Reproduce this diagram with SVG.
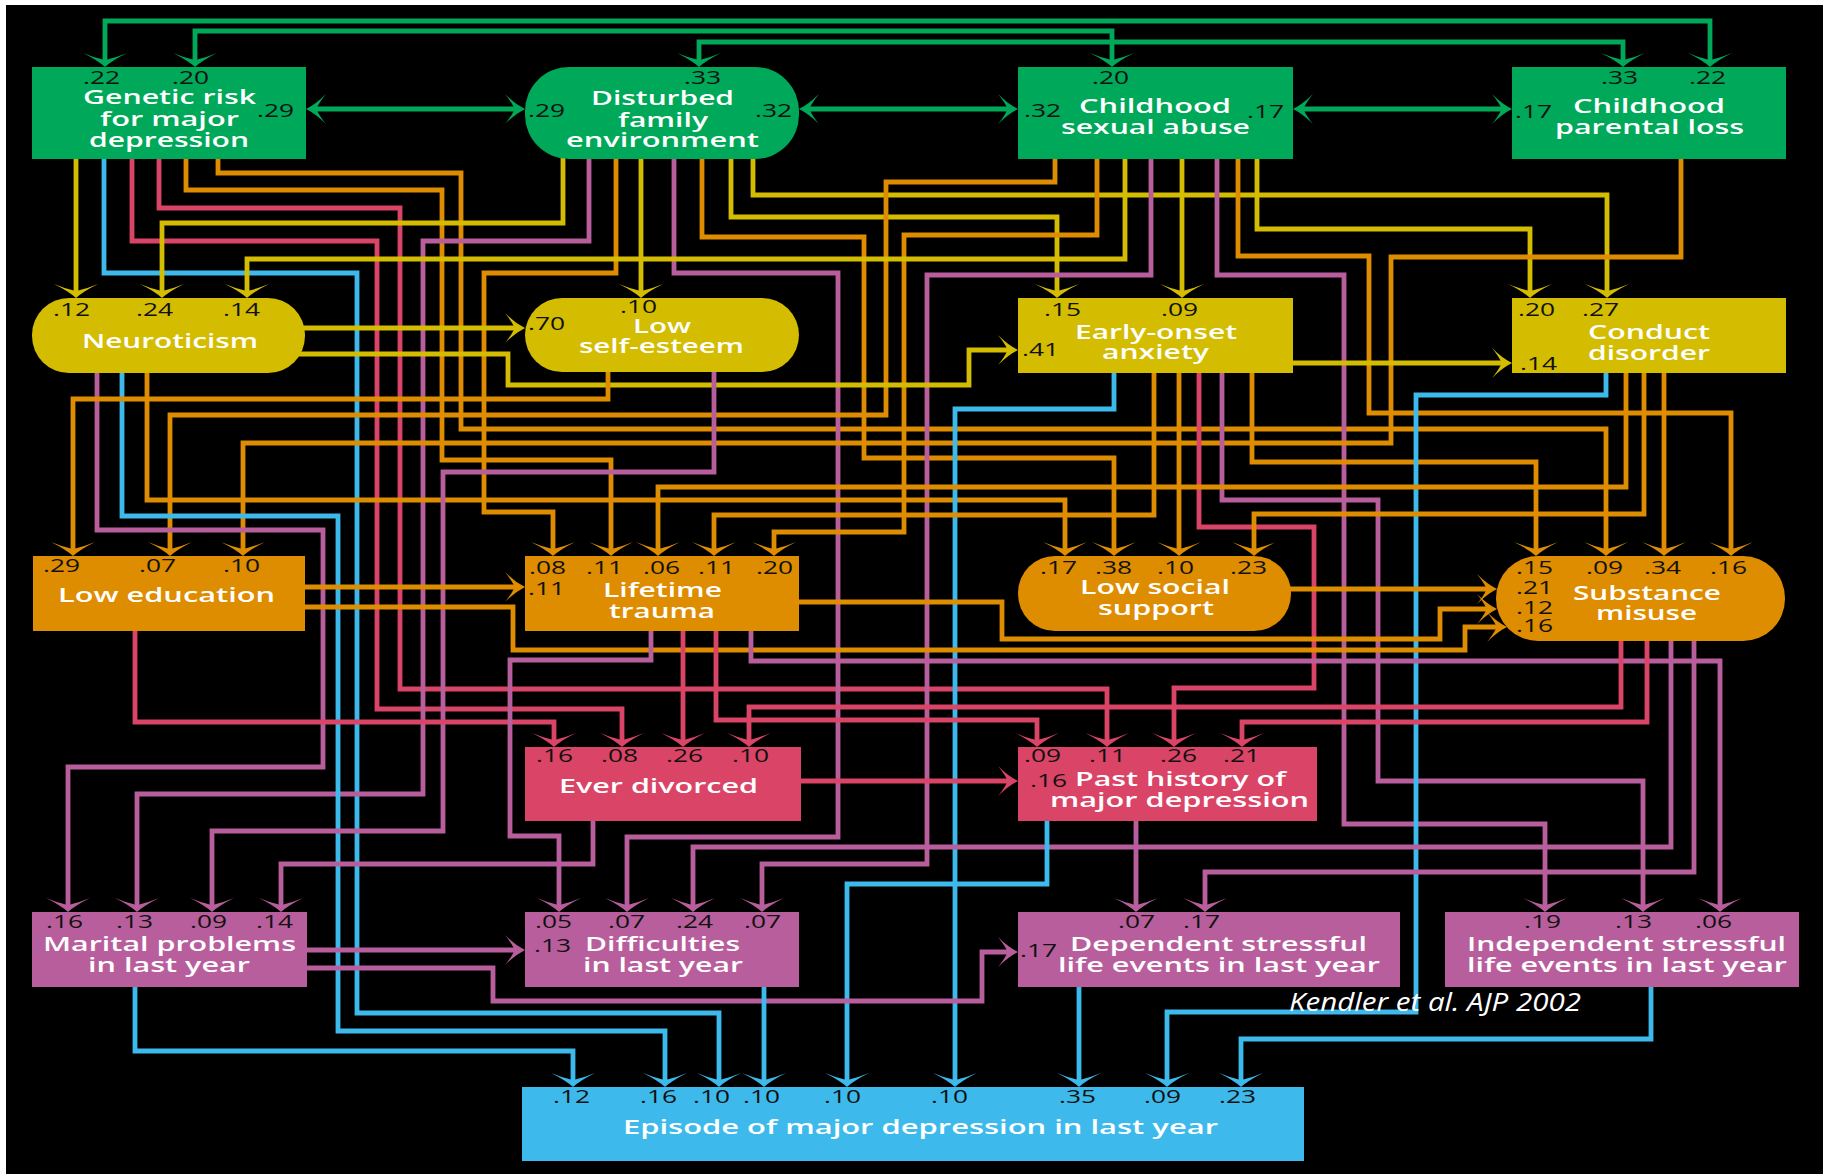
<svg xmlns="http://www.w3.org/2000/svg" width="1823" height="1174" viewBox="0 0 1823 1174">
<style>
.c{fill:none;stroke-width:4.8}
.g{stroke:#00A859}.y{stroke:#D4BC00}.o{stroke:#DE8C00}.r{stroke:#DA4466}.p{stroke:#B85E9C}.b{stroke:#3DBAEB}
.lbl{font-family:"Open Sans","DejaVu Sans",sans-serif;font-size:20px;font-weight:600;fill:#fff}
.num{font-family:"Open Sans","DejaVu Sans",sans-serif;font-size:18px;fill:#111}
.fg{fill:#00A859}.fy{fill:#D4BC00}.fo{fill:#DE8C00}.fr{fill:#DA4466}.fp{fill:#B85E9C}.fb{fill:#3DBAEB}
</style>
<defs>
<marker id="vg" markerUnits="userSpaceOnUse" markerWidth="40" markerHeight="50" orient="auto-start-reverse" overflow="visible"><path class="fg" d="M6,0 Q-0.5,-7 -8,-22 Q-3.5,-10.5 -1.5,-2.4 L-1.5,2.4 Q-3.5,10.5 -8,22 Q-0.5,7 6,0 Z"/></marker>
<marker id="hg" markerUnits="userSpaceOnUse" markerWidth="40" markerHeight="50" orient="auto-start-reverse" overflow="visible"><path class="fg" d="M9,0 Q-1,-5 -11,-15 Q-5,-7.5 -2.5,-2.4 L-2.5,2.4 Q-5,7.5 -11,15 Q-1,5 9,0 Z"/></marker>
<marker id="vy" markerUnits="userSpaceOnUse" markerWidth="40" markerHeight="50" orient="auto" overflow="visible"><path class="fy" d="M6,0 Q-0.5,-7 -8,-22 Q-3.5,-10.5 -1.5,-2.4 L-1.5,2.4 Q-3.5,10.5 -8,22 Q-0.5,7 6,0 Z"/></marker>
<marker id="hy" markerUnits="userSpaceOnUse" markerWidth="40" markerHeight="50" orient="auto" overflow="visible"><path class="fy" d="M9,0 Q-1,-5 -11,-15 Q-5,-7.5 -2.5,-2.4 L-2.5,2.4 Q-5,7.5 -11,15 Q-1,5 9,0 Z"/></marker>
<marker id="vo" markerUnits="userSpaceOnUse" markerWidth="40" markerHeight="50" orient="auto" overflow="visible"><path class="fo" d="M6,0 Q-0.5,-7 -8,-22 Q-3.5,-10.5 -1.5,-2.4 L-1.5,2.4 Q-3.5,10.5 -8,22 Q-0.5,7 6,0 Z"/></marker>
<marker id="ho" markerUnits="userSpaceOnUse" markerWidth="40" markerHeight="50" orient="auto" overflow="visible"><path class="fo" d="M9,0 Q-1,-5 -11,-15 Q-5,-7.5 -2.5,-2.4 L-2.5,2.4 Q-5,7.5 -11,15 Q-1,5 9,0 Z"/></marker>
<marker id="vr" markerUnits="userSpaceOnUse" markerWidth="40" markerHeight="50" orient="auto" overflow="visible"><path class="fr" d="M6,0 Q-0.5,-7 -8,-22 Q-3.5,-10.5 -1.5,-2.4 L-1.5,2.4 Q-3.5,10.5 -8,22 Q-0.5,7 6,0 Z"/></marker>
<marker id="hr" markerUnits="userSpaceOnUse" markerWidth="40" markerHeight="50" orient="auto" overflow="visible"><path class="fr" d="M9,0 Q-1,-5 -11,-15 Q-5,-7.5 -2.5,-2.4 L-2.5,2.4 Q-5,7.5 -11,15 Q-1,5 9,0 Z"/></marker>
<marker id="vp" markerUnits="userSpaceOnUse" markerWidth="40" markerHeight="50" orient="auto" overflow="visible"><path class="fp" d="M6,0 Q-0.5,-7 -8,-22 Q-3.5,-10.5 -1.5,-2.4 L-1.5,2.4 Q-3.5,10.5 -8,22 Q-0.5,7 6,0 Z"/></marker>
<marker id="hp" markerUnits="userSpaceOnUse" markerWidth="40" markerHeight="50" orient="auto" overflow="visible"><path class="fp" d="M9,0 Q-1,-5 -11,-15 Q-5,-7.5 -2.5,-2.4 L-2.5,2.4 Q-5,7.5 -11,15 Q-1,5 9,0 Z"/></marker>
<marker id="vb" markerUnits="userSpaceOnUse" markerWidth="40" markerHeight="50" orient="auto" overflow="visible"><path class="fb" d="M6,0 Q-0.5,-7 -8,-22 Q-3.5,-10.5 -1.5,-2.4 L-1.5,2.4 Q-3.5,10.5 -8,22 Q-0.5,7 6,0 Z"/></marker>
</defs>
<rect width="1823" height="1174" fill="#fff"/>
<rect x="6" y="5" width="1817" height="1169" fill="#000"/>
<g id="connectors">
<path class="c g" d="M105,61V21H1710V61" marker-start="url(#vg)" marker-end="url(#vg)"/>
<path class="c g" d="M195,61V31H1112V61" marker-start="url(#vg)" marker-end="url(#vg)"/>
<path class="c g" d="M699,61V42H1623V61" marker-start="url(#vg)" marker-end="url(#vg)"/>
<path class="c g" d="M315,109H516" marker-start="url(#hg)" marker-end="url(#hg)"/>
<path class="c g" d="M808,109H1009" marker-start="url(#hg)" marker-end="url(#hg)"/>
<path class="c g" d="M1302,109H1503" marker-start="url(#hg)" marker-end="url(#hg)"/>
<path class="c y" d="M76,150V292" marker-end="url(#vy)"/>
<path class="c b" d="M104,150V273H357V1013H719V1081" marker-end="url(#vb)"/>
<path class="c r" d="M132,150V241H377V709H622V741" marker-end="url(#vr)"/>
<path class="c r" d="M159,150V208H400V689H1107V741" marker-end="url(#vr)"/>
<path class="c o" d="M186,150V190H442V460H611V550" marker-end="url(#vo)"/>
<path class="c o" d="M218,150V173H461V429H1606V550" marker-end="url(#vo)"/>
<path class="c y" d="M563,140V223H162V292" marker-end="url(#vy)"/>
<path class="c p" d="M589,140V241H423V794H137V906" marker-end="url(#vp)"/>
<path class="c o" d="M616,140V273H484V512H553V550" marker-end="url(#vo)"/>
<path class="c y" d="M641,140V292" marker-end="url(#vy)"/>
<path class="c p" d="M674,140V273H838V837H627V906" marker-end="url(#vp)"/>
<path class="c o" d="M702,140V237H864V458H1114V550" marker-end="url(#vo)"/>
<path class="c y" d="M731,140V217H1057V292" marker-end="url(#vy)"/>
<path class="c y" d="M753,140V195H1607V292" marker-end="url(#vy)"/>
<path class="c o" d="M1055,150V182H886V415H170V550" marker-end="url(#vo)"/>
<path class="c o" d="M1097,150V235H904V532H774V550" marker-end="url(#vo)"/>
<path class="c y" d="M1125,150V259H247V292" marker-end="url(#vy)"/>
<path class="c p" d="M1151,150V275H927V864H762V906" marker-end="url(#vp)"/>
<path class="c y" d="M1182,150V292" marker-end="url(#vy)"/>
<path class="c p" d="M1217,150V275H1344V824H1545V906" marker-end="url(#vp)"/>
<path class="c o" d="M1238,150V256H1369V413H1731V550" marker-end="url(#vo)"/>
<path class="c y" d="M1257,150V229H1530V292" marker-end="url(#vy)"/>
<path class="c o" d="M1681,150V257H1391V443H243V550" marker-end="url(#vo)"/>
<path class="c y" d="M290,328H516" marker-end="url(#hy)"/>
<path class="c y" d="M290,354H508V385H969V350H1009" marker-end="url(#hy)"/>
<path class="c p" d="M97,365V530H323V767H68V906" marker-end="url(#vp)"/>
<path class="c b" d="M122,365V516H338V1031H665V1081" marker-end="url(#vb)"/>
<path class="c o" d="M147,365V500H1065V550" marker-end="url(#vo)"/>
<path class="c o" d="M608,365V399H73V550" marker-end="url(#vo)"/>
<path class="c p" d="M714,365V472H443V831H212V906" marker-end="url(#vp)"/>
<path class="c y" d="M1285,363H1503" marker-end="url(#hy)"/>
<path class="c b" d="M1114,365V409H955V1081" marker-end="url(#vb)"/>
<path class="c o" d="M1154,365V515H714V550" marker-end="url(#vo)"/>
<path class="c o" d="M1179,365V550" marker-end="url(#vo)"/>
<path class="c r" d="M1199,365V527H1314V688H1174V741" marker-end="url(#vr)"/>
<path class="c p" d="M1222,365V500H1378V781H1643V906" marker-end="url(#vp)"/>
<path class="c o" d="M1252,365V462H1536V550" marker-end="url(#vo)"/>
<path class="c b" d="M1606,365V395H1416V1012H1167V1081" marker-end="url(#vb)"/>
<path class="c o" d="M1626,365V487H658V550" marker-end="url(#vo)"/>
<path class="c o" d="M1644,365V514H1254V550" marker-end="url(#vo)"/>
<path class="c o" d="M1664,365V550" marker-end="url(#vo)"/>
<path class="c o" d="M300,587H516" marker-end="url(#ho)"/>
<path class="c o" d="M300,607H513V650H1465V627H1498" marker-end="url(#ho)"/>
<path class="c r" d="M135,625V722H554V741" marker-end="url(#vr)"/>
<path class="c o" d="M795,602H1002V639H1440V609H1488" marker-end="url(#ho)"/>
<path class="c p" d="M651,625V660H510V836H559V906" marker-end="url(#vp)"/>
<path class="c r" d="M683,625V741" marker-end="url(#vr)"/>
<path class="c r" d="M716,625V720H1037V741" marker-end="url(#vr)"/>
<path class="c p" d="M751,625V661H1720V906" marker-end="url(#vp)"/>
<path class="c o" d="M1280,589H1488" marker-end="url(#ho)"/>
<path class="c r" d="M1621,630V707H749V741" marker-end="url(#vr)"/>
<path class="c r" d="M1647,630V722H1242V741" marker-end="url(#vr)"/>
<path class="c p" d="M1671,630V847H693V906" marker-end="url(#vp)"/>
<path class="c p" d="M1694,630V872H1205V906" marker-end="url(#vp)"/>
<path class="c r" d="M795,781H1009" marker-end="url(#hr)"/>
<path class="c p" d="M593,815V864H281V906" marker-end="url(#vp)"/>
<path class="c b" d="M1047,815V884H847V1081" marker-end="url(#vb)"/>
<path class="c p" d="M1136,815V906" marker-end="url(#vp)"/>
<path class="c p" d="M300,950H516" marker-end="url(#hp)"/>
<path class="c p" d="M300,968H493V1001H982V952H1009" marker-end="url(#hp)"/>
<path class="c b" d="M135,980V1051H573V1081" marker-end="url(#vb)"/>
<path class="c b" d="M764,980V1081" marker-end="url(#vb)"/>
<path class="c b" d="M1079,980V1081" marker-end="url(#vb)"/>
<path class="c b" d="M1651,980V1039H1241V1081" marker-end="url(#vb)"/>
</g>
<g id="genetic"><rect class="fg" x="32" y="67" width="274" height="92"/>
<text class="lbl" x="83" y="104" textLength="173" lengthAdjust="spacingAndGlyphs">Genetic risk</text>
<text class="lbl" x="100" y="126" textLength="139" lengthAdjust="spacingAndGlyphs">for major</text>
<text class="lbl" x="89" y="147" textLength="160" lengthAdjust="spacingAndGlyphs">depression</text>
<text class="num" x="83" y="84" textLength="37" lengthAdjust="spacingAndGlyphs">.22</text>
<text class="num" x="172" y="84" textLength="37" lengthAdjust="spacingAndGlyphs">.20</text>
<text class="num" x="257" y="117" textLength="37" lengthAdjust="spacingAndGlyphs">.29</text></g>
<g id="disturbed"><rect class="fg" x="525" y="67" width="274" height="92" rx="44"/>
<text class="lbl" x="591" y="105" textLength="143" lengthAdjust="spacingAndGlyphs">Disturbed</text>
<text class="lbl" x="618" y="127" textLength="90" lengthAdjust="spacingAndGlyphs">family</text>
<text class="lbl" x="566" y="147" textLength="193" lengthAdjust="spacingAndGlyphs">environment</text>
<text class="num" x="684" y="84" textLength="37" lengthAdjust="spacingAndGlyphs">.33</text>
<text class="num" x="528" y="117" textLength="37" lengthAdjust="spacingAndGlyphs">.29</text>
<text class="num" x="755" y="117" textLength="37" lengthAdjust="spacingAndGlyphs">.32</text></g>
<g id="csa"><rect class="fg" x="1018" y="67" width="275" height="92"/>
<text class="lbl" x="1079" y="113" textLength="152" lengthAdjust="spacingAndGlyphs">Childhood</text>
<text class="lbl" x="1061" y="134" textLength="189" lengthAdjust="spacingAndGlyphs">sexual abuse</text>
<text class="num" x="1092" y="84" textLength="37" lengthAdjust="spacingAndGlyphs">.20</text>
<text class="num" x="1024" y="117" textLength="37" lengthAdjust="spacingAndGlyphs">.32</text>
<text class="num" x="1247" y="118" textLength="37" lengthAdjust="spacingAndGlyphs">.17</text></g>
<g id="parental"><rect class="fg" x="1512" y="67" width="274" height="92"/>
<text class="lbl" x="1573" y="113" textLength="152" lengthAdjust="spacingAndGlyphs">Childhood</text>
<text class="lbl" x="1555" y="134" textLength="189" lengthAdjust="spacingAndGlyphs">parental loss</text>
<text class="num" x="1601" y="84" textLength="37" lengthAdjust="spacingAndGlyphs">.33</text>
<text class="num" x="1689" y="84" textLength="37" lengthAdjust="spacingAndGlyphs">.22</text>
<text class="num" x="1515" y="118" textLength="37" lengthAdjust="spacingAndGlyphs">.17</text></g>
<g id="neuroticism"><rect class="fy" x="32" y="298" width="273" height="75" rx="37"/>
<text class="lbl" x="82" y="348" textLength="176" lengthAdjust="spacingAndGlyphs">Neuroticism</text>
<text class="num" x="53" y="316" textLength="37" lengthAdjust="spacingAndGlyphs">.12</text>
<text class="num" x="136" y="316" textLength="37" lengthAdjust="spacingAndGlyphs">.24</text>
<text class="num" x="223" y="316" textLength="37" lengthAdjust="spacingAndGlyphs">.14</text></g>
<g id="selfesteem"><rect class="fy" x="525" y="298" width="274" height="74" rx="37"/>
<text class="lbl" x="633" y="333" textLength="58" lengthAdjust="spacingAndGlyphs">Low</text>
<text class="lbl" x="579" y="353" textLength="165" lengthAdjust="spacingAndGlyphs">self-esteem</text>
<text class="num" x="620" y="313" textLength="37" lengthAdjust="spacingAndGlyphs">.10</text>
<text class="num" x="528" y="330" textLength="37" lengthAdjust="spacingAndGlyphs">.70</text></g>
<g id="anxiety"><rect class="fy" x="1018" y="298" width="275" height="75"/>
<text class="lbl" x="1075" y="339" textLength="162" lengthAdjust="spacingAndGlyphs">Early-onset</text>
<text class="lbl" x="1102" y="359" textLength="107" lengthAdjust="spacingAndGlyphs">anxiety</text>
<text class="num" x="1044" y="316" textLength="37" lengthAdjust="spacingAndGlyphs">.15</text>
<text class="num" x="1161" y="316" textLength="37" lengthAdjust="spacingAndGlyphs">.09</text>
<text class="num" x="1022" y="356" textLength="37" lengthAdjust="spacingAndGlyphs">.41</text></g>
<g id="conduct"><rect class="fy" x="1512" y="298" width="274" height="75"/>
<text class="lbl" x="1588" y="339" textLength="122" lengthAdjust="spacingAndGlyphs">Conduct</text>
<text class="lbl" x="1588" y="360" textLength="122" lengthAdjust="spacingAndGlyphs">disorder</text>
<text class="num" x="1518" y="316" textLength="37" lengthAdjust="spacingAndGlyphs">.20</text>
<text class="num" x="1582" y="316" textLength="37" lengthAdjust="spacingAndGlyphs">.27</text>
<text class="num" x="1520" y="370" textLength="37" lengthAdjust="spacingAndGlyphs">.14</text></g>
<g id="education"><rect class="fo" x="33" y="556" width="272" height="75"/>
<text class="lbl" x="58" y="602" textLength="217" lengthAdjust="spacingAndGlyphs">Low education</text>
<text class="num" x="43" y="572" textLength="37" lengthAdjust="spacingAndGlyphs">.29</text>
<text class="num" x="139" y="572" textLength="37" lengthAdjust="spacingAndGlyphs">.07</text>
<text class="num" x="223" y="572" textLength="37" lengthAdjust="spacingAndGlyphs">.10</text></g>
<g id="trauma"><rect class="fo" x="525" y="556" width="274" height="75"/>
<text class="lbl" x="603" y="597" textLength="119" lengthAdjust="spacingAndGlyphs">Lifetime</text>
<text class="lbl" x="609" y="618" textLength="106" lengthAdjust="spacingAndGlyphs">trauma</text>
<text class="num" x="529" y="574" textLength="37" lengthAdjust="spacingAndGlyphs">.08</text>
<text class="num" x="586" y="574" textLength="37" lengthAdjust="spacingAndGlyphs">.11</text>
<text class="num" x="643" y="574" textLength="37" lengthAdjust="spacingAndGlyphs">.06</text>
<text class="num" x="698" y="574" textLength="37" lengthAdjust="spacingAndGlyphs">.11</text>
<text class="num" x="756" y="574" textLength="37" lengthAdjust="spacingAndGlyphs">.20</text>
<text class="num" x="528" y="595" textLength="37" lengthAdjust="spacingAndGlyphs">.11</text></g>
<g id="social"><rect class="fo" x="1018" y="556" width="273" height="75" rx="37"/>
<text class="lbl" x="1080" y="594" textLength="150" lengthAdjust="spacingAndGlyphs">Low social</text>
<text class="lbl" x="1098" y="615" textLength="116" lengthAdjust="spacingAndGlyphs">support</text>
<text class="num" x="1040" y="574" textLength="37" lengthAdjust="spacingAndGlyphs">.17</text>
<text class="num" x="1095" y="574" textLength="37" lengthAdjust="spacingAndGlyphs">.38</text>
<text class="num" x="1157" y="574" textLength="37" lengthAdjust="spacingAndGlyphs">.10</text>
<text class="num" x="1230" y="574" textLength="37" lengthAdjust="spacingAndGlyphs">.23</text></g>
<g id="substance"><rect class="fo" x="1496" y="556" width="289" height="85" rx="42"/>
<text class="lbl" x="1573" y="600" textLength="148" lengthAdjust="spacingAndGlyphs">Substance</text>
<text class="lbl" x="1596" y="620" textLength="101" lengthAdjust="spacingAndGlyphs">misuse</text>
<text class="num" x="1516" y="574" textLength="37" lengthAdjust="spacingAndGlyphs">.15</text>
<text class="num" x="1586" y="574" textLength="37" lengthAdjust="spacingAndGlyphs">.09</text>
<text class="num" x="1644" y="574" textLength="37" lengthAdjust="spacingAndGlyphs">.34</text>
<text class="num" x="1710" y="574" textLength="37" lengthAdjust="spacingAndGlyphs">.16</text>
<text class="num" x="1516" y="594" textLength="37" lengthAdjust="spacingAndGlyphs">.21</text>
<text class="num" x="1516" y="614" textLength="37" lengthAdjust="spacingAndGlyphs">.12</text>
<text class="num" x="1516" y="632" textLength="37" lengthAdjust="spacingAndGlyphs">.16</text></g>
<g id="divorced"><rect class="fr" x="525" y="747" width="276" height="74"/>
<text class="lbl" x="559" y="793" textLength="199" lengthAdjust="spacingAndGlyphs">Ever divorced</text>
<text class="num" x="536" y="762" textLength="37" lengthAdjust="spacingAndGlyphs">.16</text>
<text class="num" x="601" y="762" textLength="37" lengthAdjust="spacingAndGlyphs">.08</text>
<text class="num" x="666" y="762" textLength="37" lengthAdjust="spacingAndGlyphs">.26</text>
<text class="num" x="732" y="762" textLength="37" lengthAdjust="spacingAndGlyphs">.10</text></g>
<g id="pasthistory"><rect class="fr" x="1018" y="747" width="299" height="74"/>
<text class="lbl" x="1075" y="786" textLength="211" lengthAdjust="spacingAndGlyphs">Past history of</text>
<text class="lbl" x="1050" y="807" textLength="259" lengthAdjust="spacingAndGlyphs">major depression</text>
<text class="num" x="1024" y="762" textLength="37" lengthAdjust="spacingAndGlyphs">.09</text>
<text class="num" x="1089" y="762" textLength="37" lengthAdjust="spacingAndGlyphs">.11</text>
<text class="num" x="1160" y="762" textLength="37" lengthAdjust="spacingAndGlyphs">.26</text>
<text class="num" x="1223" y="762" textLength="37" lengthAdjust="spacingAndGlyphs">.21</text>
<text class="num" x="1030" y="787" textLength="37" lengthAdjust="spacingAndGlyphs">.16</text></g>
<g id="marital"><rect class="fp" x="32" y="912" width="275" height="75"/>
<text class="lbl" x="43" y="951" textLength="253" lengthAdjust="spacingAndGlyphs">Marital problems</text>
<text class="lbl" x="88" y="972" textLength="162" lengthAdjust="spacingAndGlyphs">in last year</text>
<text class="num" x="46" y="928" textLength="37" lengthAdjust="spacingAndGlyphs">.16</text>
<text class="num" x="116" y="928" textLength="37" lengthAdjust="spacingAndGlyphs">.13</text>
<text class="num" x="190" y="928" textLength="37" lengthAdjust="spacingAndGlyphs">.09</text>
<text class="num" x="256" y="928" textLength="37" lengthAdjust="spacingAndGlyphs">.14</text></g>
<g id="difficulties"><rect class="fp" x="525" y="912" width="274" height="75"/>
<text class="lbl" x="585" y="951" textLength="155" lengthAdjust="spacingAndGlyphs">Difficulties</text>
<text class="lbl" x="583" y="972" textLength="160" lengthAdjust="spacingAndGlyphs">in last year</text>
<text class="num" x="535" y="928" textLength="37" lengthAdjust="spacingAndGlyphs">.05</text>
<text class="num" x="608" y="928" textLength="37" lengthAdjust="spacingAndGlyphs">.07</text>
<text class="num" x="676" y="928" textLength="37" lengthAdjust="spacingAndGlyphs">.24</text>
<text class="num" x="744" y="928" textLength="37" lengthAdjust="spacingAndGlyphs">.07</text>
<text class="num" x="534" y="952" textLength="37" lengthAdjust="spacingAndGlyphs">.13</text></g>
<g id="dependent"><rect class="fp" x="1018" y="912" width="382" height="75"/>
<text class="lbl" x="1070" y="951" textLength="297" lengthAdjust="spacingAndGlyphs">Dependent stressful</text>
<text class="lbl" x="1058" y="972" textLength="322" lengthAdjust="spacingAndGlyphs">life events in last year</text>
<text class="num" x="1118" y="928" textLength="37" lengthAdjust="spacingAndGlyphs">.07</text>
<text class="num" x="1183" y="928" textLength="37" lengthAdjust="spacingAndGlyphs">.17</text>
<text class="num" x="1020" y="957" textLength="37" lengthAdjust="spacingAndGlyphs">.17</text></g>
<g id="independent"><rect class="fp" x="1445" y="912" width="354" height="75"/>
<text class="lbl" x="1467" y="951" textLength="319" lengthAdjust="spacingAndGlyphs">Independent stressful</text>
<text class="lbl" x="1467" y="972" textLength="320" lengthAdjust="spacingAndGlyphs">life events in last year</text>
<text class="num" x="1524" y="928" textLength="37" lengthAdjust="spacingAndGlyphs">.19</text>
<text class="num" x="1615" y="928" textLength="37" lengthAdjust="spacingAndGlyphs">.13</text>
<text class="num" x="1695" y="928" textLength="37" lengthAdjust="spacingAndGlyphs">.06</text></g>
<g id="episode"><rect class="fb" x="522" y="1087" width="782" height="74"/>
<text class="lbl" x="623" y="1134" textLength="595" lengthAdjust="spacingAndGlyphs">Episode of major depression in last year</text>
<text class="num" x="553" y="1103" textLength="37" lengthAdjust="spacingAndGlyphs">.12</text>
<text class="num" x="640" y="1103" textLength="37" lengthAdjust="spacingAndGlyphs">.16</text>
<text class="num" x="693" y="1103" textLength="37" lengthAdjust="spacingAndGlyphs">.10</text>
<text class="num" x="743" y="1103" textLength="37" lengthAdjust="spacingAndGlyphs">.10</text>
<text class="num" x="824" y="1103" textLength="37" lengthAdjust="spacingAndGlyphs">.10</text>
<text class="num" x="931" y="1103" textLength="37" lengthAdjust="spacingAndGlyphs">.10</text>
<text class="num" x="1059" y="1103" textLength="37" lengthAdjust="spacingAndGlyphs">.35</text>
<text class="num" x="1144" y="1103" textLength="37" lengthAdjust="spacingAndGlyphs">.09</text>
<text class="num" x="1219" y="1103" textLength="37" lengthAdjust="spacingAndGlyphs">.23</text></g>
<text x="1289" y="1011" font-family="Open Sans, DejaVu Sans, sans-serif" font-style="italic" font-size="26" fill="#fff" textLength="292" lengthAdjust="spacingAndGlyphs">Kendler et al. AJP 2002</text>
</svg>
